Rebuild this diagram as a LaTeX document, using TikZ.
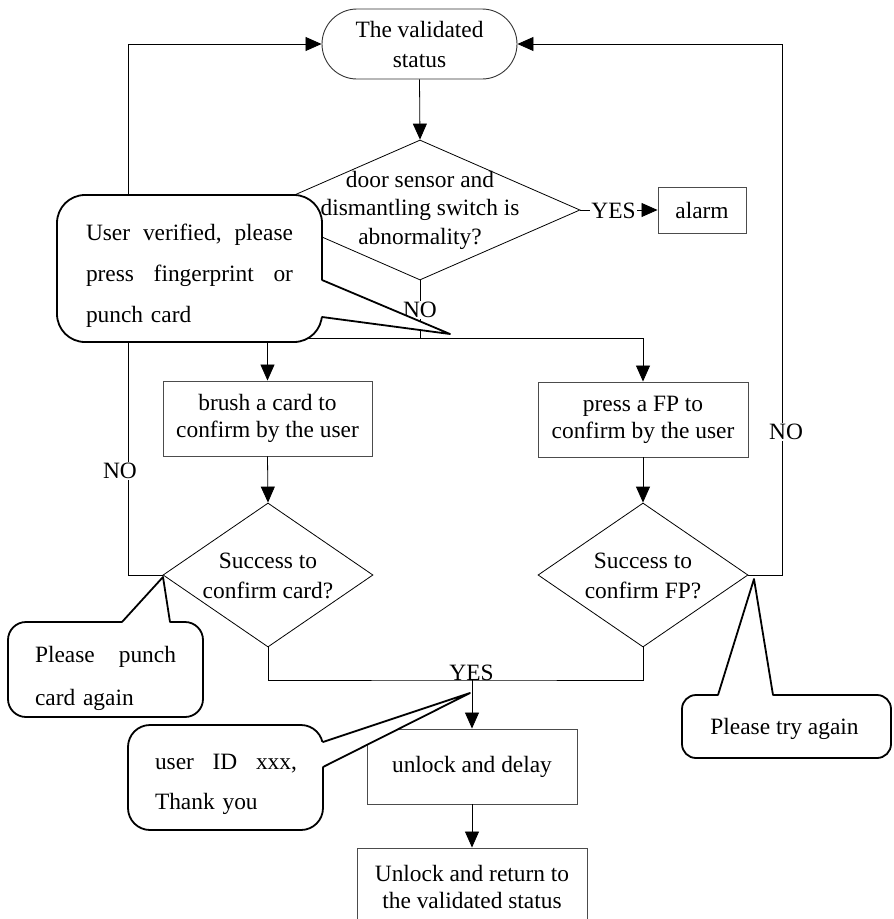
\documentclass[tikz,border=0pt]{standalone}
\usepackage{fontspec}
\setmainfont{Liberation Serif}
\usetikzlibrary{shapes.geometric,arrows.meta}
\begin{document}
\begin{tikzpicture}[x=1pt,y=-1pt,
  txt/.style={font=\fontsize{23.4}{27}\selectfont, inner sep=0pt},
  box/.style={txt, draw=black!70, line width=0.9pt, rectangle, align=center},
  term/.style={txt, draw=black!80, line width=0.9pt, rounded corners=35pt, align=center,
     minimum width=195pt, minimum height=70pt, font=\fontsize{23.4}{30}\selectfont},
  dia/.style={diamond, draw, line width=0.8pt, inner sep=0pt},
  diatext/.style={txt, align=center},
  conn/.style={line width=0.8pt},
  arr/.style={conn, -{Triangle[length=16pt,width=14pt]}},
  lbl/.style={txt, fill=white, inner sep=1pt},
  callout/.style={draw, line width=1.8pt, fill=white},
  cline/.style={line width=1.8pt, line join=round, line cap=round},
  ctext/.style={txt, align=left}
]
\useasboundingbox (0,0) rectangle (894,919);

% nodes
\node[term] (start) at (419.5,44) {The validated\\status};
\node[dia, minimum width=320pt, minimum height=140pt] (d1) at (420,210) {};
\node[diatext, font=\fontsize{23.4}{28.5}\selectfont] (d1t) at (420,210) {door sensor and\\dismantling switch is\\abnormality?};
\node[box, minimum width=88pt, minimum height=46pt] (alarm) at (702,210) {alarm};
\node[box, minimum width=209pt, minimum height=75pt] (brush) at (267.5,418.5) {brush a card to\\confirm by the user};
\node[box, minimum width=210pt, minimum height=75pt] (fp) at (643,419.5) {press a FP to\\confirm by the user};
\node[dia, minimum width=210pt, minimum height=144pt] (d2) at (268,575) {};
\node[diatext, font=\fontsize{23.4}{30}\selectfont] (d2t) at (268,576) {Success to\\confirm card?};
\node[dia, minimum width=210pt, minimum height=144pt] (d3) at (643,575) {};
\node[diatext, font=\fontsize{23.4}{30}\selectfont] (d3t) at (643,576) {Success to\\confirm FP?};
\node[box, minimum width=210pt, minimum height=75pt] (unlock) at (472,766.5) {unlock and delay};
\node[box, minimum width=230pt, minimum height=77pt] (final) at (472,886.5) {Unlock and return to\\the validated status};

% junctions
\coordinate (j1) at (420,338);
\coordinate (jl) at (267.5,338);
\coordinate (jr) at (643,338);
\coordinate (j2) at (472,680);
\coordinate (ll) at (128,575);
\coordinate (rl) at (782,575);

% connectors
\draw[arr] (start.south) -- (d1.north);
\draw[arr] (d1.east) -- (alarm.west);
\draw[conn] (d1.south) -- (j1);
\draw[conn] (jl) -- (jr);
\draw[arr] (jl) -- (brush.north);
\draw[arr] (jr) -- (fp.north);
\draw[arr] (brush.south) -- (d2.north);
\draw[arr] (fp.south) -- (d3.north);
\draw[conn] (d2.south) |- (j2) -| (d3.south);
\draw[arr] (j2) -- (unlock.north);
\draw[arr] (unlock.south) -- (final.north);
\draw[arr] (d2.west) -- (ll) |- (start.west);
\draw[arr] (d3.east) -- (rl) |- (start.east);

% labels
\node[lbl] (yes1) at (613.5,211) {YES};
\node[lbl] (no1) at (420,310) {NO};
\node[lbl] (no2) at (120,471) {NO};
\node[lbl] (no3) at (786,432) {NO};
\node[txt, anchor=base] (yes2) at (471.5,680) {YES};

% callout 1
\coordinate (t1) at (450,334);
\draw[callout, rounded corners=28pt] (57,195) rectangle (322,342);
\fill[white] (318,280) -- (322,280) -- (t1) -- (322,317) -- (318,317) -- cycle;
\draw[cline] (322,280) -- (t1) -- (322,317);
\node[ctext, font=\fontsize{23.4}{41}\selectfont, text width=207pt] (c1) at (189.5,276)
  {\makebox[207pt]{User\hfill verified,\hfill please}\\\makebox[207pt]{press\hfill fingerprint\hfill or}\\punch card};

% callout 2
\coordinate (t2) at (163,577);
\draw[callout, rounded corners=18pt] (8,622) rectangle (203,717);
\fill[white] (122,626) -- (122,622) -- (t2) -- (170,622) -- (170,626) -- cycle;
\draw[cline] (122,622) -- (t2) -- (170,622);
\node[ctext, font=\fontsize{23.4}{43}\selectfont, text width=141pt] (c2) at (105.5,678)
  {\makebox[141pt]{Please\hfill punch}\\card again};

% callout 3
\coordinate (t3) at (470,693);
\draw[callout, rounded corners=22pt] (128,725) rectangle (323,830);
\fill[white] (319,742) -- (323,742) -- (t3) -- (323,767) -- (319,767) -- cycle;
\draw[cline] (323,742) -- (t3) -- (323,767);
\node[ctext, font=\fontsize{23.4}{40}\selectfont, text width=142pt] (c3) at (226,784)
  {\makebox[142pt]{user\hfill ID\hfill xxx,}\\Thank you};

% callout 4
\coordinate (t4) at (754,579);
\draw[callout, rounded corners=14pt] (682,695) rectangle (891,758);
\fill[white] (718,699) -- (718,695) -- (t4) -- (773,695) -- (773,699) -- cycle;
\draw[cline] (718,695) -- (t4) -- (773,695);
\node[txt] (c4) at (784.5,729) {Please try again};
\end{tikzpicture}
\end{document}
